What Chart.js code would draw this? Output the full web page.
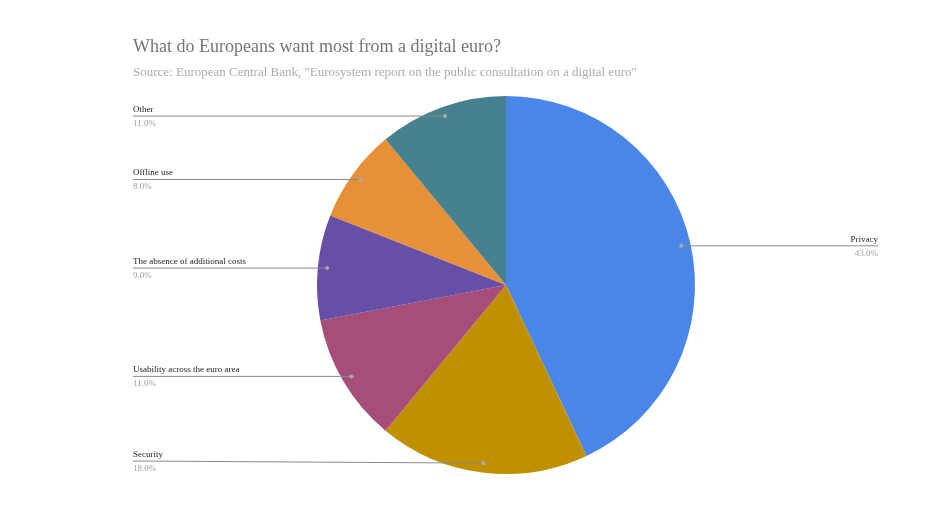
<!DOCTYPE html>
<html>
<head>
<meta charset="utf-8">
<script src="https://cdn.jsdelivr.net/npm/chart.js@4/dist/chart.umd.min.js"></script>
<style>
  html, body { margin: 0; padding: 0; background: #fff; }
  #wrap { width: 928px; height: 522px; position: relative; }
</style>
</head>
<body>
<div id="wrap"><canvas id="chart"></canvas></div>
<script>
const title = "What do Europeans want most from a digital euro?";
const subtitle = "Source: European Central Bank, \"Eurosystem report on the public consultation on a digital euro\"";
const labels = ["Privacy", "Security", "Usability across the euro area", "The absence of additional costs", "Offline use", "Other"];
const values = [43, 18, 11, 9, 8, 11];
const colors = ["#4a86e8", "#bf9000", "#a64d79", "#674ea7", "#e69138", "#45818e"];

const FONT = "'Liberation Serif', 'DejaVu Serif', serif";

// draws title, subtitle and the leader-line labels
const calloutPlugin = {
  id: "callouts",
  afterDraw(chart) {
    const ctx = chart.ctx;
    ctx.save();
    ctx.textBaseline = "alphabetic";
    ctx.fillStyle = "#757575";
    ctx.font = "18px " + FONT;
    ctx.textAlign = "left";
    ctx.fillText(title, 133, 52);
    ctx.fillStyle = "#acacac";
    ctx.font = "13px " + FONT;
    ctx.fillText(subtitle, 133, 76);

    const meta = chart.getDatasetMeta(0);
    const total = values.reduce((a, b) => a + b, 0);
    meta.data.forEach((arc, i) => {
      const p = arc.getProps(["x", "y", "startAngle", "endAngle", "outerRadius"], true);
      const mid = (p.startAngle + p.endAngle) / 2;
      const r = p.outerRadius * 0.95;
      const dx = p.x + Math.cos(mid) * r;
      const dy = p.y + Math.sin(mid) * r;
      const right = Math.cos(mid) > 0;
      const tx = right ? 878 : 133;
      const ly = Math.min(dy, 461);

      ctx.strokeStyle = "#8a8a8a";
      ctx.lineWidth = 1;
      ctx.beginPath();
      ctx.moveTo(tx, ly);
      ctx.lineTo(dx, dy);
      ctx.stroke();

      ctx.fillStyle = "#aaaaaa";
      ctx.beginPath();
      ctx.arc(dx, dy, 2, 0, Math.PI * 2);
      ctx.fill();

      ctx.textAlign = right ? "right" : "left";
      ctx.fillStyle = "#222";
      ctx.font = "9px " + FONT;
      ctx.fillText(labels[i], tx, ly - 4);
      ctx.fillStyle = "#9e9e9e";
      ctx.fillText((values[i] / total * 100).toFixed(1) + "%", tx, ly + 10);
    });
    ctx.restore();
  }
};

new Chart(document.getElementById("chart"), {
  type: "pie",
  data: {
    labels: labels,
    datasets: [{
      data: values,
      backgroundColor: colors,
      borderWidth: 0
    }]
  },
  options: {
    responsive: true,
    maintainAspectRatio: false,
    animation: false,
    layout: { padding: { top: 96, bottom: 48, left: 133, right: 49 } },
    plugins: {
      legend: { display: false },
      tooltip: { enabled: false }
    }
  },
  plugins: [calloutPlugin]
});
</script>
</body>
</html>
